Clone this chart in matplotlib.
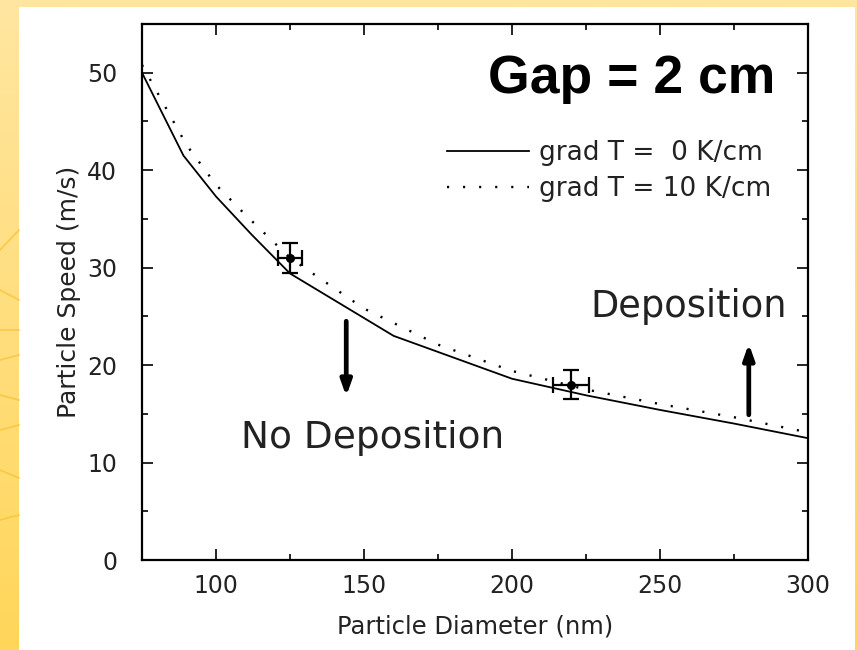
import numpy as np
import matplotlib
matplotlib.use("Agg")
import matplotlib.pyplot as plt
from matplotlib.patches import Rectangle
from matplotlib.ticker import MultipleLocator

# ---- data ----
diam_solid = [75, 89, 100, 112, 125, 160, 200, 225, 250, 275, 300]
speed_solid = [50.0, 41.5, 37.3, 33.4, 29.4, 23.0, 18.6, 16.9, 15.4, 14.0, 12.5]

diam_dot = [75, 90, 100, 110, 125, 150, 175, 200, 225, 250, 275, 300]
speed_dot = [50.8, 42.6, 38.5, 35.4, 31.0, 25.8, 22.1, 19.4, 17.5, 16.0, 14.65, 13.1]

exp_diam = [125, 220]
exp_speed = [31.0, 18.0]
exp_xerr = [4, 6]
exp_yerr = [1.5, 1.5]

label_solid = "grad T =  0 K/cm"
label_dot = "grad T = 10 K/cm"

arrow_down_x = 144
arrow_down_y = [24.5, 16.8]
arrow_up_x = 280
arrow_up_y = [14.9, 22.2]

xticks = [100, 150, 200, 250, 300]
yticks = [0, 10, 20, 30, 40, 50]

# ---- figure ----
W, H = 857, 650
fig = plt.figure(figsize=(W / 100, H / 100), dpi=100)

# background frame (yellow border with white panel)
bg = fig.add_axes([0, 0, 1, 1], zorder=-10)
bg.set_xlim(0, W)
bg.set_ylim(H, 0)
bg.axis("off")
grad = np.linspace(0, 1, 256).reshape(-1, 1)
cmap = matplotlib.colors.LinearSegmentedColormap.from_list("yb", ["#FFE6A0", "#FFD65A"])
bg.imshow(grad, extent=[0, W, H, 0], aspect="auto", cmap=cmap)
for y0, y1 in [(250, 230), (290, 300), (330, 330), (360, 355), (395, 400), (430, 425), (470, 478), (520, 515)]:
    bg.plot([0, 19], [y0, y1], color="#F7C030", lw=1.2, alpha=0.7)
bg.add_patch(Rectangle((19, 7), 836, H - 7, facecolor="white", edgecolor="none"))

# main axes
left, right, top, bottom = 142, 808, 24, 560
ax = fig.add_axes([left / W, (H - bottom) / H, (right - left) / W, (bottom - top) / H])
ax.set_facecolor("white")

ax.plot(diam_solid, speed_solid, color="black", lw=1.3, label=label_solid)
ax.plot(diam_dot, speed_dot, color="black", lw=1.7, linestyle=(0, (0.9, 5.9)),
        dash_capstyle="butt", label=label_dot)
ax.errorbar(exp_diam, exp_speed, xerr=exp_xerr, yerr=exp_yerr, fmt="o", color="black",
            ms=5.5, elinewidth=1.6, capsize=5.5, capthick=1.6)

for x, (y0, y1) in [(arrow_down_x, arrow_down_y), (arrow_up_x, arrow_up_y)]:
    ax.annotate("", xy=(x, y1), xytext=(x, y0),
                arrowprops=dict(arrowstyle="-|>,head_length=0.9,head_width=0.32",
                                lw=3.4, color="black", shrinkA=0, shrinkB=0))

ax.set_xlim(75, 300)
ax.set_ylim(0, 55)
ax.set_xticks(xticks)
ax.set_yticks(yticks)
ax.xaxis.set_minor_locator(MultipleLocator(25))
ax.yaxis.set_minor_locator(MultipleLocator(5))
ax.tick_params(which="both", direction="in", top=True, right=True, width=1.2, colors="black")
ax.tick_params(which="major", length=8, labelsize=17)
ax.tick_params(axis="x", which="major", pad=10)
ax.tick_params(axis="y", which="major", pad=18)
ax.tick_params(which="minor", length=4)
for lab in ax.get_xticklabels() + ax.get_yticklabels():
    lab.set_color("#222222")
for sp in ax.spines.values():
    sp.set_linewidth(1.6)

ax.set_xlabel("Particle Diameter (nm)", fontsize=17.5, labelpad=12, color="#222222")
ax.set_ylabel("Particle Speed (m/s)", fontsize=18, labelpad=4, color="#222222")

ax.text(0.7355, 0.871, "Gap = 2 cm", transform=ax.transAxes, ha="center", va="baseline",
        fontsize=38.5, fontweight="bold", family="Liberation Sans")
ax.text(0.673, 0.453, "Deposition", transform=ax.transAxes, ha="left", va="baseline",
        fontsize=26.5, color="#222222")
ax.text(0.1486, 0.209, "No Deposition", transform=ax.transAxes, ha="left", va="baseline",
        fontsize=27, color="#222222")

ax.legend(loc="upper left", bbox_to_anchor=(0.458, 0.783), frameon=False, fontsize=19,
          handlelength=3.1, handletextpad=0.4, labelspacing=0.36, borderpad=0,
          borderaxespad=0, labelcolor="#222222")

fig.savefig("out.png", dpi=100)
